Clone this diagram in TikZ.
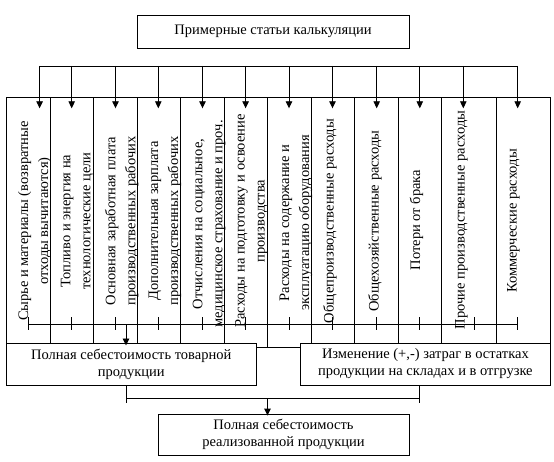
\documentclass[tikz,border=0pt]{standalone}
\usepackage{fontspec}
\setmainfont{Liberation Serif}
\usetikzlibrary{arrows.meta}
\newcommand\myfs{\fontsize{14.5}{17}\selectfont}
\newcommand\myfsv{\fontsize{14.5}{20}\selectfont}
\begin{document}
\begin{tikzpicture}[x=1pt,y=-1pt,line width=0.9pt,
  arr/.style={-{Triangle[length=7pt,width=6.5pt]}},
  box/.style={draw,fill=white,inner sep=0pt,align=center,font=\myfs},
  vtext/.style={rotate=90,align=center,inner sep=0pt,font=\myfsv},
  tick/.style={line width=0.9pt}]
\useasboundingbox (0,0) rectangle (554,462);
% top box
\node[box,minimum width=272pt,minimum height=33.3pt] (top) at (273,31.65) {Примерные статьи калькуляции};
% column frame
\draw (6.4,343) -- (6.4,97.3) -- (550.7,97.3) -- (550.7,343);
\foreach \x in {50.5,93.6,137.5,180.6,224.4,311,354.4,398.2,441.7,496.5}
  \draw (\x,97.3) -- (\x,343);
\draw (267.5,97.3) -- (267.5,347);
% top bus and arrows
\coordinate (busL) at (39.6,66);
\coordinate (busR) at (517.7,66);
\draw (busL) -- (busR);
\foreach \x in {39.6,71.7,115.5,158.3,202.5,245.6,289,332.5,376.7,419.8,463.3,517.7}
  \draw[arr] (\x,66) -- (\x,108.3);
% column texts
\node[vtext] (c1) at (34.7,221) {Сырье и материалы (возвратные\\отходы вычитаются)};
\node[vtext] (c2) at (77,221) {Топливо и энергия на\\технологические цели};
\node[vtext] (c3) at (121.8,221) {Основная заработная плата\\производственных рабочих};
\node[vtext] (c4) at (165,221) {Дополнительная зарплата\\производственных рабочих};
\node[vtext] (c5) at (209,224) {Отчисления на социальное,\\медицинское страхование и проч.};
\node[vtext] (c6) at (251.5,221) {Расходы на подготовку и освоение\\производства};
\node[vtext] (c7) at (296,223) {Расходы на содержание и\\эксплуатацию оборудования};
\node[vtext] (c8) at (330,221) {Общепроизводственные расходы};
\node[vtext] (c9) at (375,221) {Общехозяйственные расходы};
\node[vtext] (c10) at (416.5,220) {Потери от брака};
\node[vtext] (c11) at (461.5,220) {Прочие производственные расходы};
\node[vtext] (c12) at (513.5,221) {Коммерческие расходы};
% collector with ticks
\coordinate (colL) at (28.3,324.5);
\coordinate (colR) at (517.7,324.5);
\draw (colL) -- (colR);
\foreach \x in {28.3,71.7,115.5,158.3,202.5,245.6,289,332.5,376.7,419.8,474,517.7}
  \draw[tick] (\x,317) -- (\x,330);
% bottom boxes
\node[box,minimum width=249.6pt,minimum height=42pt] (lbox) at (131.2,364) {Полная себестоимость товарной\\продукции};
\node[box,minimum width=250.2pt,minimum height=42pt] (rbox) at (425.4,364) {Изменение (+,-) затраг в остатках\\продукции на складах и в отгрузке};
\draw (lbox.east |- 0,347) -- (rbox.west |- 0,347);
\coordinate (dn) at (126,324.5);
\draw[arr] (dn) -- (126,345.5);
% lower bus
\coordinate (lb) at (126.5,398);
\coordinate (rb) at (419.4,398);
\draw (lbox.south -| lb) -- ([yshift=-5pt]lb);
\draw (rbox.south -| rb) -- ([yshift=-5pt]rb);
\draw (lb) -- (rb);
\node[box,minimum width=251pt,minimum height=41pt] (fin) at (283.5,434.5) {Полная себестоимость\\реализованной продукции};
\coordinate (mid) at (267.5,398);
\draw[arr] (mid) -- ([yshift=-2pt]fin.north -| mid);
\end{tikzpicture}
\end{document}
